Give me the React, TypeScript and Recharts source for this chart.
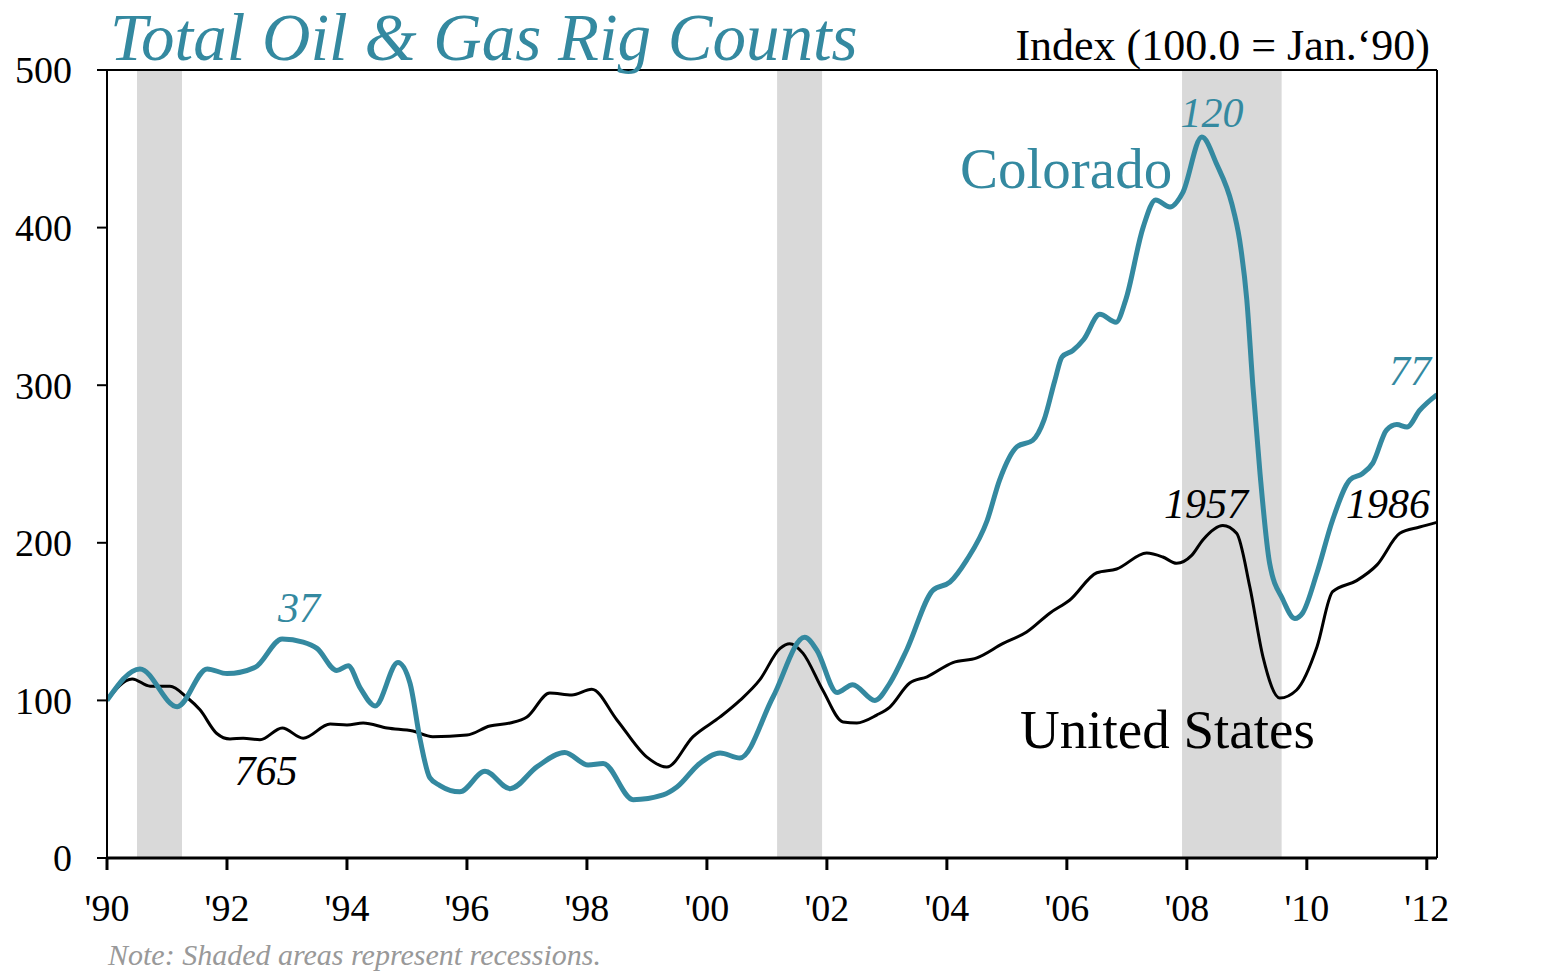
import React from "react"
import {
  LineChart,
  Line,
  XAxis,
  YAxis,
  ReferenceArea,
  ReferenceLine,
} from "recharts"

const TEAL = "#3489a0"
const FONT = "'Liberation Serif', 'DejaVu Serif', serif"

// Index values (100.0 = Jan. 1990), x in decimal years
const coloradoYears = [
  1990.0, 1990.55, 1991.17, 1991.67, 1992.0, 1992.47, 1992.92, 1993.27, 1993.5, 1993.83,
  1994.02, 1994.22, 1994.47, 1994.85, 1995.05, 1995.22, 1995.38, 1995.55, 1995.88, 1996.3,
  1996.72, 1997.17, 1997.63, 1998.02, 1998.27, 1998.77, 1999.27, 1999.5, 1999.88, 2000.22,
  2000.55, 2001.1, 2001.63, 2001.83, 2002.17, 2002.43, 2002.8, 2003.05, 2003.33, 2003.77,
  2004.05, 2004.33, 2004.67, 2004.88, 2005.17, 2005.43, 2005.62, 2005.8, 2005.92, 2006.1,
  2006.28, 2006.55, 2006.82, 2006.98, 2007.27, 2007.48, 2007.72, 2007.93, 2008.25, 2008.5,
  2008.75, 2008.88, 2009.0, 2009.1, 2009.22, 2009.38, 2009.6, 2009.8, 2009.93, 2010.17,
  2010.43, 2010.72, 2010.93, 2011.1, 2011.33, 2011.5, 2011.67, 2011.88, 2012.17,
]
const coloradoValues = [
  100, 120, 96, 120, 117, 121, 139, 137, 133, 119,
  122, 108, 96.5, 124, 111, 75, 51, 46, 42, 55,
  44, 58, 67, 59, 60, 37, 40, 45, 60, 66.6,
  63.5, 102, 140, 132, 105, 110, 100, 111, 132, 170,
  175, 189, 214, 240, 261, 265, 278, 303, 318, 322,
  329, 345, 340, 354, 400, 417.5, 413, 422, 457.5, 440,
  415, 392, 354, 300, 244, 187, 164, 152, 155.5, 181,
  214.5, 240, 244, 250.6, 271.6, 275, 273.5, 284, 294,
]

const usYears = [
  1990.0, 1990.42, 1990.72, 1991.05, 1991.33, 1991.55, 1991.83, 1992.05, 1992.27, 1992.55,
  1992.92, 1993.27, 1993.72, 1994.0, 1994.27, 1994.67, 1995.1, 1995.43, 1996.0, 1996.38,
  1996.72, 1997.0, 1997.38, 1997.75, 1998.08, 1998.5, 1999.0, 1999.33, 1999.77, 2000.22,
  2000.55, 2000.88, 2001.22, 2001.38, 2001.6, 2001.93, 2002.27, 2002.5, 2002.83, 2003.05,
  2003.38, 2003.67, 2004.1, 2004.5, 2004.93, 2005.33, 2005.72, 2006.05, 2006.5, 2006.83,
  2007.33, 2007.6, 2007.83, 2008.08, 2008.27, 2008.6, 2008.83, 2009.05, 2009.27, 2009.55,
  2009.83, 2010.17, 2010.43, 2010.83, 2011.17, 2011.55, 2011.88, 2012.17,
]
const usValues = [
  100, 113.6, 109, 109, 102, 94, 79, 75.5, 76, 75,
  82.5, 76, 85, 84.4, 85.7, 82.5, 80.6, 77, 78, 83.8,
  85.7, 89.5, 104.7, 103.4, 107, 87.6, 64, 57.7, 77, 89.5,
  100, 113, 133, 136, 130, 106.6, 86.3, 85.7, 90.7, 95.8,
  111, 115, 124, 127, 136, 143.4, 155.5, 163.7, 181, 183.4,
  193.5, 191, 187, 192, 202, 211, 206, 172, 127.5, 101.5,
  106.6, 134, 169, 176, 186, 206, 210, 213,
]

const recessionStarts = [1990.5, 2001.17, 2007.92]
const recessionEnds = [1991.25, 2001.92, 2009.58]

const yTicks = [0, 100, 200, 300, 400, 500]
const xTicks = [1990, 1992, 1994, 1996, 1998, 2000, 2002, 2004, 2006, 2008, 2010, 2012]

const coloradoData = coloradoYears.map((year, i) => ({ year, value: coloradoValues[i] }))
const usData = usYears.map((year, i) => ({ year, value: usValues[i] }))

const tickStyle = { fontSize: 38, fill: "#000", fontFamily: FONT }

export default function App() {
  return (
    <div
      style={{
        position: "absolute",
        left: 0,
        top: 0,
        width: 1545,
        height: 974,
        background: "#fff",
        fontFamily: FONT,
      }}
    >
      <LineChart
        width={1545}
        height={974}
        margin={{ top: 70, right: 48, left: 47, bottom: 56 }}
      >
        {recessionStarts.map((s, i) => (
          <ReferenceArea
            key={s}
            yAxisId="left"
            x1={s}
            x2={recessionEnds[i]}
            y1={0}
            y2={500}
            fill="#d9d9d9"
            fillOpacity={1}
            stroke="none"
          />
        ))}
        <XAxis
          type="number"
          dataKey="year"
          domain={[1990, 2012.17]}
          ticks={xTicks}
          tickFormatter={(v: number) => "'" + String(v).slice(2)}
          tick={tickStyle}
          tickSize={12}
          tickMargin={24}
          height={60}
          stroke="#000"
          strokeWidth={3}
          allowDataOverflow
        />
        <YAxis
          yAxisId="left"
          domain={[0, 500]}
          ticks={yTicks}
          tick={tickStyle}
          tickSize={10}
          tickMargin={25}
          width={60}
          stroke="#000"
          strokeWidth={2}
        />
        <YAxis
          yAxisId="right"
          orientation="right"
          domain={[0, 500]}
          ticks={yTicks}
          tick={{ ...tickStyle, textAnchor: "start" }}
          tickSize={10}
          tickMargin={28}
          width={60}
          stroke="#000"
          strokeWidth={2}
        />
        <ReferenceLine yAxisId="left" y={500} stroke="#000" strokeWidth={2} />
        <Line
          yAxisId="left"
          data={usData}
          dataKey="value"
          type="monotone"
          stroke="#000"
          strokeWidth={3}
          dot={false}
          isAnimationActive={false}
        />
        <Line
          yAxisId="left"
          data={coloradoData}
          dataKey="value"
          type="monotone"
          stroke={TEAL}
          strokeWidth={5}
          dot={false}
          isAnimationActive={false}
        />
      </LineChart>

      {/* textos sobre el grafico */}
      <svg
        width={1545}
        height={974}
        style={{ position: "absolute", left: 0, top: 0, pointerEvents: "none" }}
        fontFamily={FONT}
      >
        <text x={110} y={60} fontSize={67} fontStyle="italic" fill={TEAL}>
          Total Oil &amp; Gas Rig Counts
        </text>
        <text x={1430} y={60} fontSize={44} textAnchor="end" fill="#000">
          Index (100.0 = Jan.‘90)
        </text>
        <text x={960} y={188} fontSize={57} fill={TEAL}>
          Colorado
        </text>
        <text x={1020} y={748} fontSize={55} fill="#000">
          United States
        </text>
        <text x={1212} y={127} fontSize={42} fontStyle="italic" textAnchor="middle" fill={TEAL}>
          120
        </text>
        <text x={1410} y={385} fontSize={42} fontStyle="italic" textAnchor="middle" fill={TEAL}>
          77
        </text>
        <text x={299} y={622} fontSize={42} fontStyle="italic" textAnchor="middle" fill={TEAL}>
          37
        </text>
        <text x={266} y={785} fontSize={42} fontStyle="italic" textAnchor="middle" fill="#000">
          765
        </text>
        <text x={1206} y={518} fontSize={42} fontStyle="italic" textAnchor="middle" fill="#000">
          1957
        </text>
        <text x={1388} y={518} fontSize={42} fontStyle="italic" textAnchor="middle" fill="#000">
          1986
        </text>
        <text x={108} y={965} fontSize={30} fontStyle="italic" fill="#999">
          Note: Shaded areas represent recessions.
        </text>
      </svg>
    </div>
  )
}
